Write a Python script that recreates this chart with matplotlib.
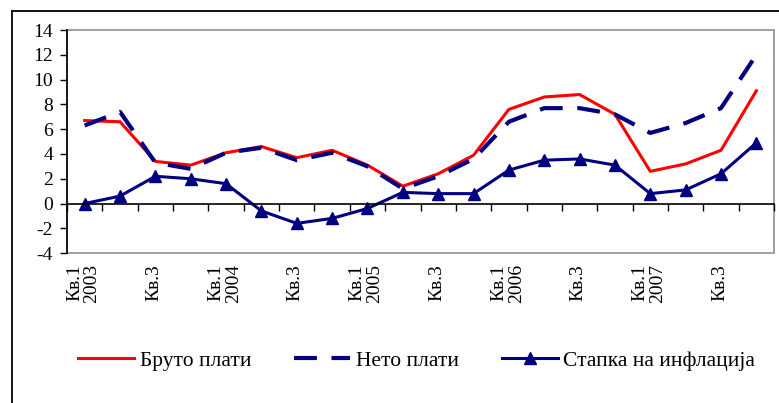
import matplotlib.pyplot as plt
from matplotlib.lines import Line2D
from matplotlib.patches import Rectangle

# quarterly data, 2003 Q1 - 2007 Q4 (annual % change)
quarters = ["Кв.1\n2003", "", "Кв.3", "",
            "Кв.1\n2004", "", "Кв.3", "",
            "Кв.1\n2005", "", "Кв.3", "",
            "Кв.1\n2006", "", "Кв.3", "",
            "Кв.1\n2007", "", "Кв.3", ""]
bruto = [6.7, 6.6, 3.4, 3.1, 4.1, 4.6, 3.7, 4.3, 3.1, 1.4,
         2.4, 3.9, 7.6, 8.6, 8.8, 7.2, 2.6, 3.2, 4.3, 9.1]
neto = [6.3, 7.4, 3.3, 2.8, 4.1, 4.5, 3.5, 4.1, 3.0, 1.2,
        2.2, 3.6, 6.6, 7.7, 7.7, 7.2, 5.7, 6.5, 7.7, 12.0]
inflacija = [0.0, 0.6, 2.2, 2.0, 1.6, -0.6, -1.6, -1.2, -0.4, 0.9,
             0.8, 0.8, 2.7, 3.5, 3.6, 3.1, 0.8, 1.1, 2.4, 4.9]
series_names = ["Бруто плати", "Нето плати", "Стапка на инфлација"]
yticks = list(range(-4, 15, 2))

plt.rcParams['font.family'] = ['Liberation Serif', 'DejaVu Serif']
plt.rcParams['axes.unicode_minus'] = False
navy = '#000080'

fig = plt.figure(figsize=(7.79, 4.03), dpi=100)
ax = fig.add_axes([0.086, 0.372, 0.9076, 0.5533])

x = range(len(quarters))
l1, = ax.plot(x, bruto, color='#ff0000', lw=2.2, label=series_names[0])
l2, = ax.plot(x, neto, color=navy, lw=3.0, dashes=(5.5, 3.5), label=series_names[1])
l3, = ax.plot(x, inflacija, color=navy, lw=2.2, marker='^', markersize=8.5,
              label=series_names[2])

ax.set_xlim(-0.5, len(quarters) - 0.5)
ax.set_ylim(-4, 14)
ax.set_yticks(yticks)
ax.tick_params(axis='y', direction='out', length=5, width=1, labelsize=14, pad=5)

# category axis crossing at zero, ticks at category boundaries
ax.spines['bottom'].set_position(('data', 0))
ax.spines['bottom'].set_linewidth(1.2)
ax.spines['left'].set_linewidth(1.2)
ax.spines['top'].set_visible(False)
ax.spines['right'].set_visible(False)
ax.set_xticks([i - 0.5 for i in range(len(quarters) + 1)])
ax.set_xticklabels([])
ax.tick_params(axis='x', direction='out', length=5, width=1)

# grey plot-area border
ax.add_patch(Rectangle((0, 0), 1, 1, transform=ax.transAxes, fill=False,
                       edgecolor='#909090', lw=1.2, clip_on=False, zorder=0))

for i, lab in enumerate(quarters):
    if lab:
        ax.annotate(lab, xy=(i, 0), xycoords=('data', 'axes fraction'),
                    xytext=(-1, -8), textcoords='offset points',
                    rotation=90, ha='center', va='top', multialignment='right',
                    fontsize=14, linespacing=1.05)

fig.legend(handles=[l1, l2, l3], loc='center', bbox_to_anchor=(0.535, 0.105),
           ncol=3, frameon=False, fontsize=15.5, handlelength=2.6,
           columnspacing=2.0, handletextpad=0.25)

# outer chart border (extends past the image on right and bottom)
fig.add_artist(Line2D([12 / 779, 1.0], [1 - 11 / 403, 1 - 11 / 403],
                      transform=fig.transFigure, color='black', lw=1.3))
fig.add_artist(Line2D([12 / 779, 12 / 779], [1 - 11 / 403, 0.0],
                      transform=fig.transFigure, color='black', lw=1.3))

fig.savefig('out.png', dpi=100)
